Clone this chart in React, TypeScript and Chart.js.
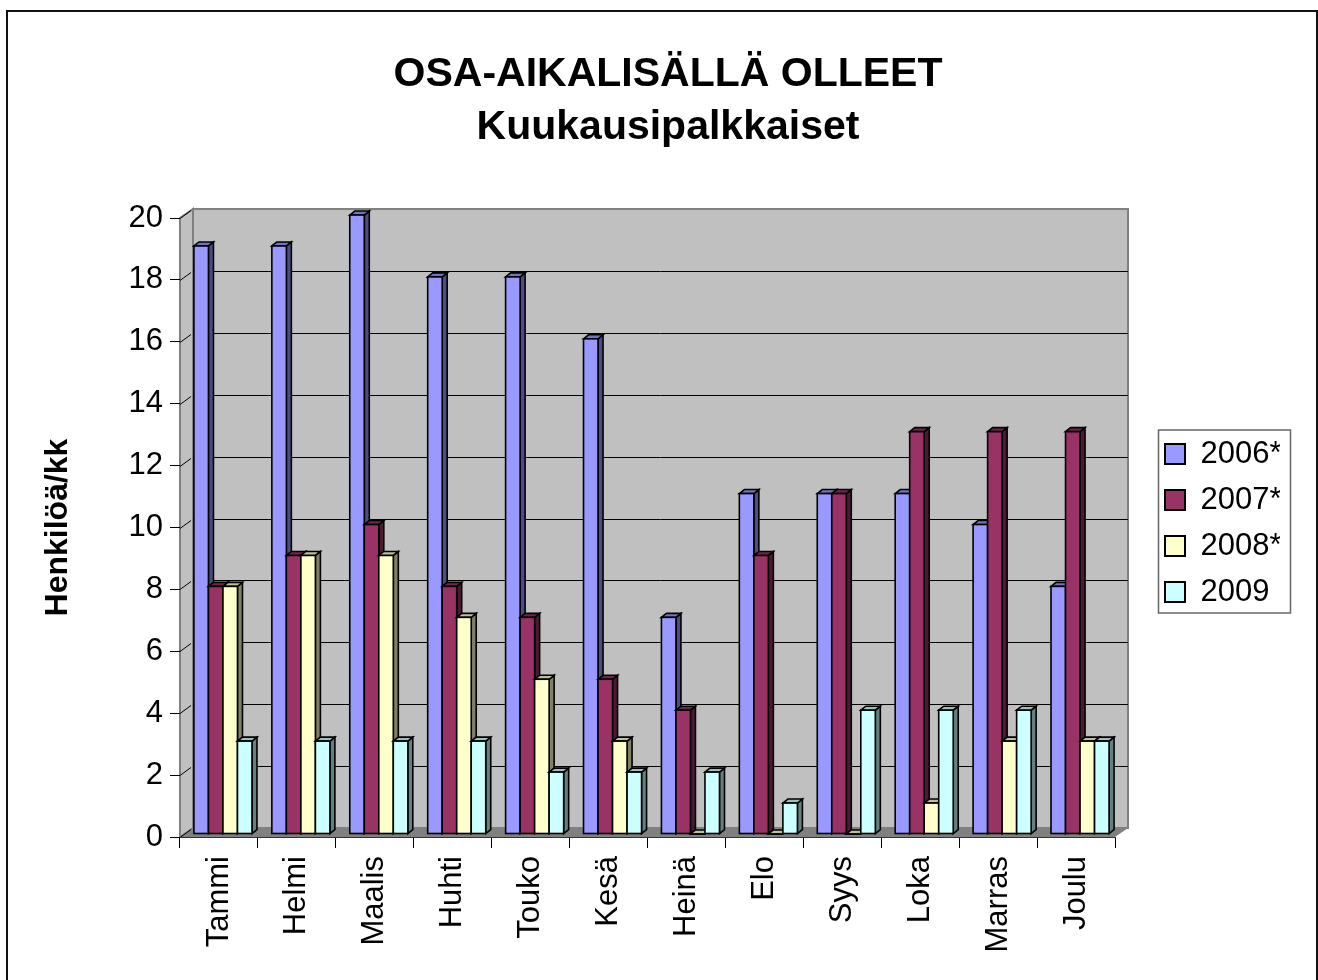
import React, { useEffect, useRef } from "react";
import { Chart, registerables } from "chart.js";

Chart.register(...registerables);

// ---- data ----
const months = ["Tammi", "Helmi", "Maalis", "Huhti", "Touko", "Kesä", "Heinä", "Elo", "Syys", "Loka", "Marras", "Joulu"];
const values2006 = [19, 19, 20, 18, 18, 16, 7, 11, 11, 11, 10, 8];
const values2007 = [8, 9, 10, 8, 7, 5, 4, 9, 11, 13, 13, 13];
const values2008 = [8, 9, 9, 7, 5, 3, 0, 0, 0, 1, 3, 3];
const values2009 = [3, 3, 3, 3, 2, 2, 2, 1, 4, 4, 4, 3];
const seriesLabels = ["2006*", "2007*", "2008*", "2009"];
const seriesColors = ["#9999FF", "#993366", "#FFFFCC", "#CCFFFF"];
const titleLines = ["OSA-AIKALISÄLLÄ OLLEET", "Kuukausipalkkaiset"];
const yAxisTitle = "Henkilöä/kk";
const yMin = 0;
const yMax = 20;
const yStep = 2;

// ---- style constants ----
const FONT = "'Liberation Sans', Arial, Helvetica, sans-serif";
const WALL_DX = 13;
const WALL_DY = 9;
const BAR_DX = 5;
const BAR_DY = 4;
const BAR_SHIFT_X = 4;
const BAR_SHIFT_Y = 3;

function shade(hex: string, f: number) {
  const n = parseInt(hex.slice(1), 16);
  const r = Math.round(((n >> 16) & 255) * f);
  const g = Math.round(((n >> 8) & 255) * f);
  const b = Math.round((n & 255) * f);
  return `rgb(${r},${g},${b})`;
}

const threeD = {
  id: "threeD",
  afterLayout(chart: any) {
    const lg = chart.legend;
    if (lg) {
      const target = chart.chartArea.right + 35;
      const d = target - lg.left;
      lg.left += d;
      lg.right += d;
      lg.top += 33;
      lg.bottom += 33;
    }
    const tb = chart.titleBlock;
    if (tb) {
      tb.left += 26;
      tb.right += 26;
    }
  },
  beforeDraw(chart: any) {
    const { ctx, chartArea: a } = chart;
    const ys = chart.scales.y;
    ctx.save();
    // floor
    ctx.beginPath();
    ctx.moveTo(a.left, a.bottom);
    ctx.lineTo(a.left + WALL_DX, a.bottom - WALL_DY);
    ctx.lineTo(a.right + WALL_DX, a.bottom - WALL_DY);
    ctx.lineTo(a.right, a.bottom);
    ctx.closePath();
    ctx.fillStyle = "#808080";
    ctx.fill();
    // side wall
    ctx.beginPath();
    ctx.moveTo(a.left, a.top);
    ctx.lineTo(a.left + WALL_DX, a.top - WALL_DY);
    ctx.lineTo(a.left + WALL_DX, a.bottom - WALL_DY);
    ctx.lineTo(a.left, a.bottom);
    ctx.closePath();
    ctx.fillStyle = "#c0c0c0";
    ctx.fill();
    ctx.strokeStyle = "#808080";
    ctx.lineWidth = 2;
    ctx.stroke();
    // back wall
    ctx.fillStyle = "#c0c0c0";
    ctx.fillRect(a.left + WALL_DX, a.top - WALL_DY, a.right - a.left, a.bottom - a.top);
    ctx.strokeStyle = "#808080";
    ctx.lineWidth = 2;
    ctx.strokeRect(a.left + WALL_DX, a.top - WALL_DY, a.right - a.left, a.bottom - a.top);
    // gridlines on back wall + diagonals on side wall
    ctx.lineWidth = 1;
    ys.ticks.forEach((t: any) => {
      const py = Math.round(ys.getPixelForValue(t.value)) + 0.5;
      if (t.value !== yMin && t.value !== yMax) {
        ctx.strokeStyle = "#000";
        ctx.beginPath();
        ctx.moveTo(a.left + WALL_DX, py - WALL_DY);
        ctx.lineTo(a.right + WALL_DX, py - WALL_DY);
        ctx.stroke();
      }
      ctx.strokeStyle = "#000";
      ctx.beginPath();
      ctx.moveTo(a.left, py);
      ctx.lineTo(a.left + WALL_DX - 2, py - WALL_DY + 1);
      ctx.stroke();
    });
    ctx.restore();
  },
  beforeDatasetsDraw(chart: any) {
    const { ctx } = chart;
    ctx.save();
    ctx.lineWidth = 1.6;
    ctx.strokeStyle = "#000";
    ctx.lineJoin = "miter";
    chart.data.datasets.forEach((ds: any, di: number) => {
      const meta = chart.getDatasetMeta(di);
      const col = seriesColors[di];
      meta.data.forEach((el: any) => {
        const p = el.getProps(["x", "y", "base", "width"], true);
        const l = p.x - p.width / 2 + BAR_SHIFT_X;
        const r = p.x + p.width / 2 + BAR_SHIFT_X;
        const t = p.y - BAR_SHIFT_Y;
        const b = p.base - BAR_SHIFT_Y;
        // side
        ctx.beginPath();
        ctx.moveTo(r, t);
        ctx.lineTo(r + BAR_DX, t - BAR_DY);
        ctx.lineTo(r + BAR_DX, b - BAR_DY);
        ctx.lineTo(r, b);
        ctx.closePath();
        ctx.fillStyle = shade(col, 0.5);
        ctx.fill();
        ctx.stroke();
        // top
        ctx.beginPath();
        ctx.moveTo(l, t);
        ctx.lineTo(l + BAR_DX, t - BAR_DY);
        ctx.lineTo(r + BAR_DX, t - BAR_DY);
        ctx.lineTo(r, t);
        ctx.closePath();
        ctx.fillStyle = shade(col, 0.75);
        ctx.fill();
        ctx.stroke();
        // front
        ctx.fillStyle = col;
        ctx.fillRect(l, t, r - l, b - t);
        ctx.strokeRect(l, t, r - l, b - t);
      });
    });
    ctx.restore();
    return false;
  },
  afterDraw(chart: any) {
    const { ctx } = chart;
    ctx.save();
    const lg = chart.legend;
    if (lg && lg.legendHitBoxes && lg.legendHitBoxes.length) {
      const hb = lg.legendHitBoxes;
      const first = hb[0];
      const last = hb[hb.length - 1];
      const left = first.left - 7;
      const right = left + 132;
      const top = first.top - 9;
      const bottom = last.top + last.height + 5;
      ctx.strokeStyle = "#666";
      ctx.lineWidth = 1.5;
      ctx.strokeRect(left + 0.5, top + 0.5, right - left, bottom - top);
    }
    // outer frame
    ctx.strokeStyle = "#111";
    ctx.lineWidth = 2;
    ctx.strokeRect(7, 11, 1310, 980);
    ctx.restore();
  },
};

export default function App() {
  const ref = useRef<HTMLCanvasElement>(null);
  useEffect(() => {
    if (!ref.current) return;
    Chart.defaults.font.family = FONT;
    Chart.defaults.color = "#000";
    const allSeries = [values2006, values2007, values2008, values2009];
    const chart = new Chart(ref.current, {
      type: "bar",
      data: {
        labels: months,
        datasets: allSeries.map((vals, i) => ({
          label: seriesLabels[i],
          data: vals,
          backgroundColor: seriesColors[i],
          borderColor: "#000",
          borderWidth: 2,
          barPercentage: 1,
          categoryPercentage: 0.745,
        })),
      },
      options: {
        responsive: false,
        animation: false,
        events: [],
        devicePixelRatio: 1,
        layout: { padding: { left: 39, right: 73, top: 0, bottom: 0 } },
        plugins: {
          tooltip: { enabled: false },
          title: {
            display: true,
            text: titleLines,
            color: "#000",
            font: { family: FONT, size: 41, weight: "bold", lineHeight: 1.293 },
            padding: { top: 48, bottom: 64 },
          },
          legend: {
            display: true,
            position: "right",
            maxWidth: 130,
            labels: {
              color: "#000",
              font: { family: FONT, size: 31 },
              boxWidth: 20,
              boxHeight: 20,
              padding: 15,
            },
          },
        },
        scales: {
          x: {
            type: "category",
            offset: true,
            afterFit: (s: any) => {
              s.height = 143;
            },
            grid: {
              offset: true,
              drawOnChartArea: false,
              drawTicks: true,
              tickLength: 11,
              color: "#000",
              lineWidth: 1,
            },
            border: { display: true, color: "#333", width: 1 },
            ticks: {
              autoSkip: false,
              minRotation: 90,
              maxRotation: 90,
              padding: 8,
              color: "#000",
              font: { family: FONT, size: 31 },
            },
          },
          y: {
            min: yMin,
            max: yMax,
            afterFit: (s: any) => {
              s.width = 141;
            },
            grid: {
              drawOnChartArea: false,
              drawTicks: true,
              tickLength: 10,
              color: "#000",
              lineWidth: 1,
            },
            border: { display: false },
            ticks: {
              stepSize: yStep,
              padding: 7,
              color: "#000",
              font: { family: FONT, size: 31 },
            },
            title: {
              display: true,
              text: yAxisTitle,
              color: "#000",
              font: { family: FONT, size: 32, weight: "bold" },
              padding: { top: 0, bottom: 0 },
            },
          },
        },
      },
      plugins: [threeD],
    } as any);
    return () => chart.destroy();
  }, []);
  return (
    <div style={{ position: "absolute", left: 0, top: 0, width: 1318, height: 980, background: "#fff" }}>
      <canvas ref={ref} width={1318} height={980} style={{ display: "block", width: 1318, height: 980 }} />
    </div>
  );
}
